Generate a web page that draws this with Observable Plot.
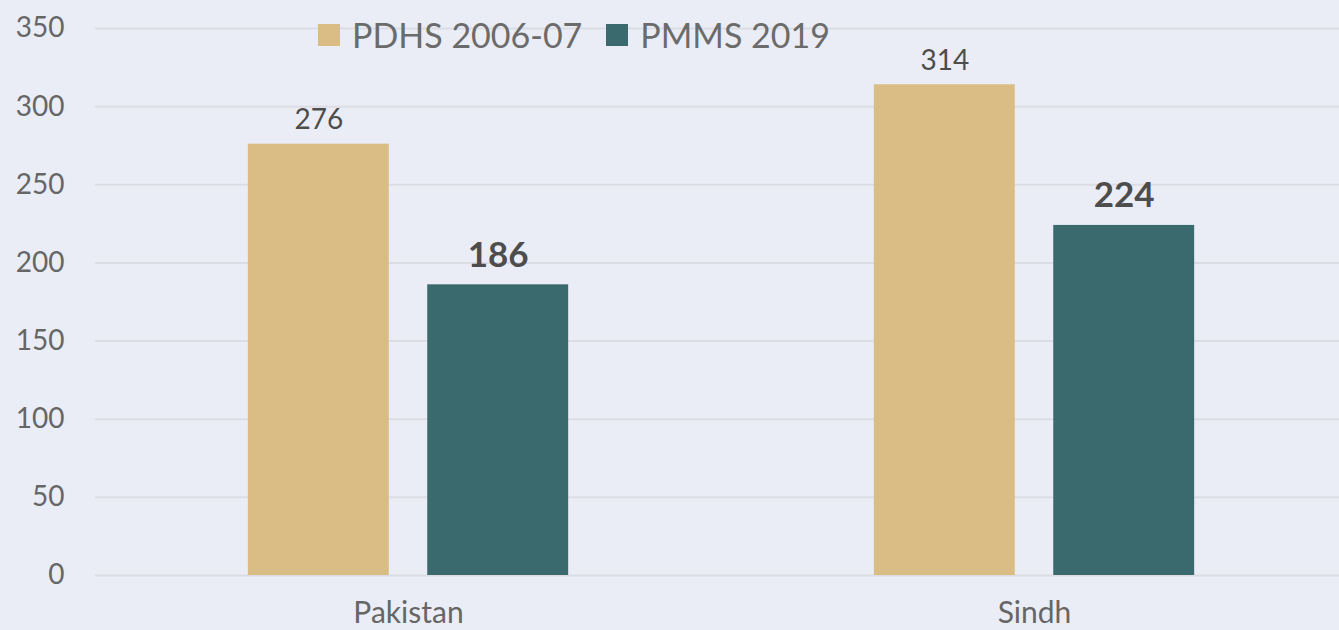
<!DOCTYPE html>
<html><head><meta charset="utf-8">
<script src="https://cdn.jsdelivr.net/npm/d3@7"></script>
<script src="https://cdn.jsdelivr.net/npm/@observablehq/plot@0.6"></script>
<style>
html,body{margin:0;padding:0;background:#eaedf6;overflow:hidden;width:1339px;height:630px}
#wrap{position:relative;width:1339px;height:630px;overflow:hidden}
#wrap svg{position:absolute;left:0;top:0}
#legend{position:absolute;left:318px;top:14px;display:flex;align-items:center;font-family:Lato,sans-serif;font-size:34px;color:#6b6b6b;white-space:nowrap;z-index:2}
#legend .sw{display:inline-block;width:22px;height:22px;margin-right:12px}
#legend .item{display:flex;align-items:center;margin-right:24px}
</style></head>
<body><div id="wrap"></div>
<script>
const regions = ["Pakistan", "Sindh"];
const series = ["PDHS 2006-07", "PMMS 2019"];
const pdhs = [276, 314];
const pmms = [186, 224];
const yTicks = [0, 50, 100, 150, 200, 250, 300, 350];
const colors = ["#dabd84", "#3b6a6e"];

const data = regions.flatMap((r, i) => [
  {region: r, series: series[0], value: pdhs[i]},
  {region: r, series: series[1], value: pmms[i]}
]);

const chart = Plot.plot({
  width: 1339, height: 630,
  marginLeft: 94, marginRight: -8, marginTop: 28, marginBottom: 55,
  style: {background: "transparent", fontFamily: "Lato, sans-serif", overflow: "visible"},
  fx: {domain: regions, padding: 0, label: null, axis: null},
  x: {domain: series, paddingInner: 0.2145, paddingOuter: 0.852, axis: null, round: false},
  y: {domain: [0, 350]},
  color: {domain: series, range: colors},
  marks: [
    Plot.gridY(yTicks, {stroke: "#dcdde4", strokeOpacity: 1, strokeWidth: 2}),
    Plot.axisY(yTicks, {tickSize: 0, tickPadding: 31, fontSize: 28, color: "#666", label: null}),
    Plot.axisFx({anchor: "bottom", tickSize: 0, tickPadding: 26, fontSize: 30, color: "#666", label: null}),
    Plot.barY(data, {fx: "region", x: "series", y: "value", fill: "series"}),
    Plot.text(data.filter(d => d.series === series[0]), {fx: "region", x: "series", y: "value", text: d => String(d.value), lineAnchor: "bottom", dy: -15, fontSize: 28, fill: "#4d4d4d"}),
    Plot.text(data.filter(d => d.series === series[1]), {fx: "region", x: "series", y: "value", text: d => String(d.value), lineAnchor: "bottom", dy: -18, fontSize: 35, fontWeight: "bold", fill: "#4d4d4d"})
  ]
});

const wrap = document.getElementById("wrap");
wrap.appendChild(chart);
const legend = document.createElement("div");
legend.id = "legend";
series.forEach((s, i) => {
  const item = document.createElement("div");
  item.className = "item";
  const sw = document.createElement("span");
  sw.className = "sw";
  sw.style.background = colors[i];
  const t = document.createElement("span");
  t.textContent = s;
  item.appendChild(sw); item.appendChild(t);
  legend.appendChild(item);
});
wrap.appendChild(legend);
</script>
</body></html>
